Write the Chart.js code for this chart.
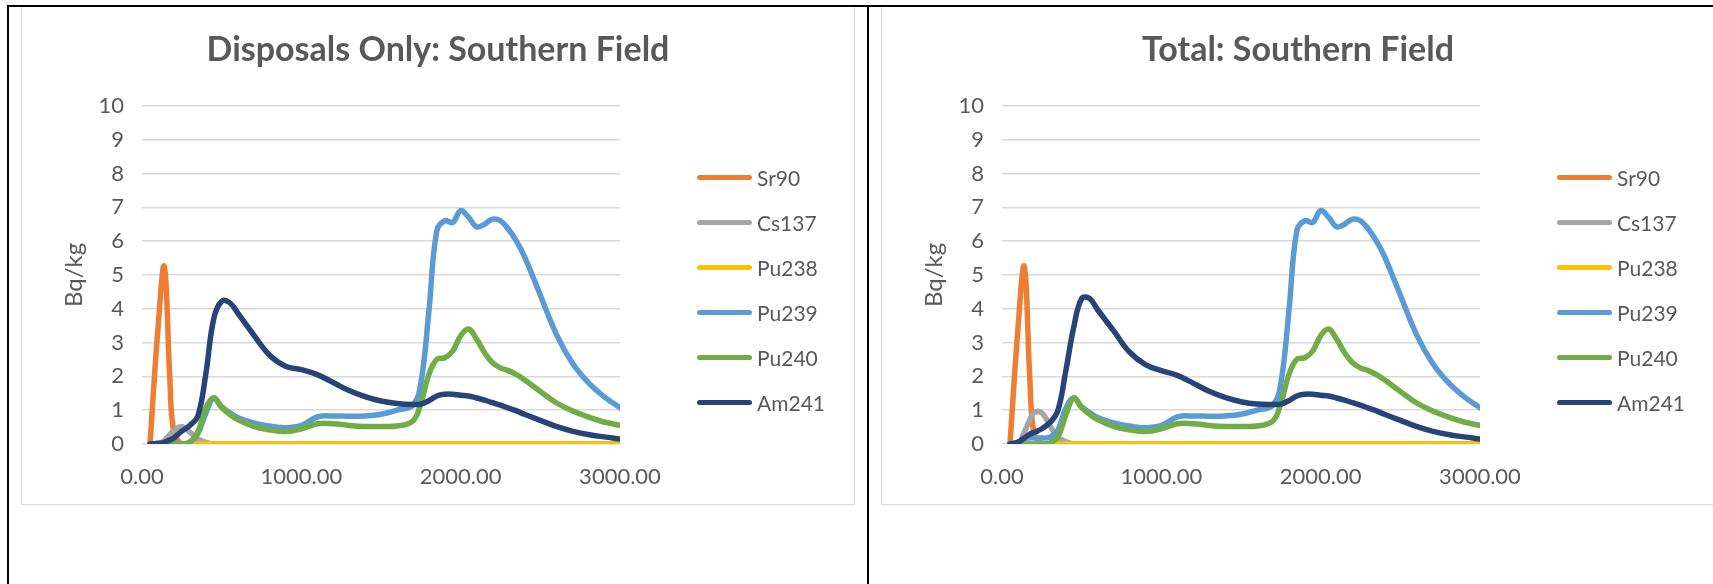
<!DOCTYPE html>
<html>
<head>
<meta charset="utf-8">
<title>Southern Field</title>
<script src="https://cdn.jsdelivr.net/npm/chart.js@4.4.1/dist/chart.umd.min.js"></script>
<style>
  body { margin: 0; background: #fff; font-family: Lato, sans-serif; }
  .rule { position: absolute; background: #000; z-index: 2; }
  .box { position: absolute; top: 5px; width: 832px; height: 498px; border: 1.5px solid #d9d9d9; }
  .box canvas { position: absolute; left: 0; top: 0; }
  .legend { position: absolute; left: 675px; top: 149px; list-style: none; margin: 0; padding: 0; }
  .legend li { display: flex; align-items: center; height: 45px; color: #595959; font-size: 21px; white-space: nowrap; }
  .legend span { display: inline-block; width: 55px; height: 5.5px; border-radius: 3px; margin-right: 5px; }
</style>
</head>
<body>
<div class="box" style="left:21px"><canvas id="disposals" width="832" height="498"></canvas><ul class="legend" id="legend-disposals"></ul></div>
<div class="box" style="left:881px"><canvas id="total" width="832" height="498"></canvas><ul class="legend" id="legend-total"></ul></div>
<div class="rule" style="left:7px;top:5px;width:1706px;height:1.5px"></div>
<div class="rule" style="left:7px;top:5px;width:2px;height:579px"></div>
<div class="rule" style="left:867px;top:5px;width:2px;height:579px"></div>
<script>
"use strict";

// distance values (x axis)
const X_VALUES = [
  50, 100, 140, 175, 200, 250, 300, 350, 400, 450,
  500, 550, 600, 700, 800, 900, 1000, 1100, 1200, 1300,
  1400, 1500, 1600, 1700, 1750, 1800, 1850, 1900, 1950, 2000,
  2050, 2100, 2150, 2200, 2250, 2300, 2350, 2400, 2500, 2600,
  2700, 2800, 2900, 3000
];

const SERIES_NAMES = ["Sr90", "Cs137", "Pu238", "Pu239", "Pu240", "Am241"];
const SERIES_COLORS = ["#ED7D31", "#A5A5A5", "#FFC000", "#5B9BD5", "#70AD47", "#264478"];

const CHART_TITLES = ["Disposals Only: Southern Field", "Total: Southern Field"];
const Y_TITLE = "Bq/kg";

// Bq/kg, same in both charts
const SR90 = [
  0, 3.4, 5.25, 1.9, 0.35, 0, 0, 0, 0, 0,
  0, 0, 0, 0, 0, 0, 0, 0, 0, 0,
  0, 0, 0, 0, 0, 0, 0, 0, 0, 0,
  0, 0, 0, 0, 0, 0, 0, 0, 0, 0,
  0, 0, 0, 0
];
const PU238 = [
  0, 0, 0, 0, 0, 0, 0, 0, 0, 0,
  0, 0, 0, 0, 0, 0, 0, 0, 0, 0,
  0, 0, 0, 0, 0, 0, 0, 0, 0, 0,
  0, 0, 0, 0, 0, 0, 0, 0, 0, 0,
  0, 0, 0, 0
];

// disposals only
const CS137_DISPOSALS = [
  0, 0, 0.1, 0.28, 0.4, 0.52, 0.35, 0.15, 0.05, 0,
  0, 0, 0, 0, 0, 0, 0, 0, 0, 0,
  0, 0, 0, 0, 0, 0, 0, 0, 0, 0,
  0, 0, 0, 0, 0, 0, 0, 0, 0, 0,
  0, 0, 0, 0
];
const PU239_DISPOSALS = [
  0, 0, 0, 0, 0, 0, 0.05, 0.3, 0.9, 1.36,
  1.1, 0.93, 0.78, 0.62, 0.53, 0.48, 0.55, 0.8, 0.83, 0.82,
  0.83, 0.88, 1.0, 1.15, 1.8, 3.9, 6.3, 6.6, 6.55, 6.9,
  6.7, 6.42, 6.5, 6.65, 6.6, 6.35, 6.0, 5.55, 4.4, 3.25,
  2.4, 1.82, 1.4, 1.07
];
const PU240_DISPOSALS = [
  0, 0, 0, 0, 0, 0, 0.05, 0.35, 1.05, 1.36,
  1.08, 0.88, 0.72, 0.52, 0.42, 0.37, 0.45, 0.6, 0.6, 0.55,
  0.52, 0.52, 0.53, 0.68, 1.2, 2.05, 2.5, 2.55, 2.75, 3.2,
  3.4, 3.1, 2.7, 2.4, 2.25, 2.17, 2.05, 1.9, 1.55, 1.22,
  0.98, 0.8, 0.65, 0.55
];
const AM241_DISPOSALS = [
  0, 0.02, 0.05, 0.12, 0.18, 0.38, 0.55, 0.82, 2.05, 3.7,
  4.22, 4.18, 3.88, 3.23, 2.63, 2.3, 2.2, 2.05, 1.82, 1.58,
  1.4, 1.27, 1.2, 1.17, 1.18, 1.28, 1.42, 1.47, 1.47, 1.44,
  1.42, 1.36, 1.3, 1.22, 1.15, 1.06, 0.98, 0.88, 0.7, 0.52,
  0.38, 0.28, 0.21, 0.15
];

// total
const CS137_TOTAL = [
  0, 0, 0.35, 0.72, 0.93, 0.92, 0.55, 0.2, 0.07, 0,
  0, 0, 0, 0, 0, 0, 0, 0, 0, 0,
  0, 0, 0, 0, 0, 0, 0, 0, 0, 0,
  0, 0, 0, 0, 0, 0, 0, 0, 0, 0,
  0, 0, 0, 0
];
const PU239_TOTAL = [
  0, 0.05, 0.15, 0.18, 0.18, 0.18, 0.2, 0.4, 1.05, 1.36,
  1.1, 0.93, 0.78, 0.62, 0.53, 0.48, 0.55, 0.8, 0.83, 0.82,
  0.83, 0.88, 1.0, 1.15, 1.8, 3.9, 6.3, 6.6, 6.55, 6.9,
  6.7, 6.42, 6.5, 6.65, 6.6, 6.35, 6.0, 5.55, 4.4, 3.25,
  2.4, 1.82, 1.4, 1.07
];
const PU240_TOTAL = [
  0, 0, 0, 0, 0, 0, 0.03, 0.2, 0.85, 1.36,
  1.08, 0.88, 0.72, 0.52, 0.42, 0.37, 0.45, 0.6, 0.6, 0.55,
  0.52, 0.52, 0.53, 0.68, 1.2, 2.05, 2.5, 2.55, 2.75, 3.2,
  3.4, 3.1, 2.7, 2.4, 2.25, 2.17, 2.05, 1.9, 1.55, 1.22,
  0.98, 0.8, 0.65, 0.55
];
const AM241_TOTAL = [
  0, 0.05, 0.18, 0.29, 0.34, 0.45, 0.63, 0.98, 2.15, 3.45,
  4.3, 4.3, 3.97, 3.35, 2.72, 2.35, 2.17, 2.03, 1.8, 1.56,
  1.38, 1.25, 1.18, 1.17, 1.18, 1.28, 1.42, 1.47, 1.47, 1.44,
  1.42, 1.36, 1.3, 1.22, 1.15, 1.06, 0.98, 0.88, 0.7, 0.52,
  0.38, 0.28, 0.21, 0.15
];

const TEXT_COLOR = "#595959";
const GRID_COLOR = "#d9d9d9";
const FONT = "Lato";

function makeChart(canvasId, title, values) {
  const datasets = values.map((ys, i) => ({
    label: SERIES_NAMES[i],
    data: X_VALUES.map((x, j) => ({ x: x, y: ys[j] })),
    borderColor: SERIES_COLORS[i],
    backgroundColor: SERIES_COLORS[i],
    borderWidth: 5.5,
    borderCapStyle: "round",
    borderJoinStyle: "round",
    pointRadius: 0,
    tension: 0.4,
    // later series on top, like Excel
    order: values.length - i
  }));

  return new Chart(document.getElementById(canvasId), {
    type: "line",
    data: { datasets: datasets },
    options: {
      responsive: false,
      animation: false,
      layout: { padding: 0 },
      plugins: {
        legend: { display: false },
        tooltip: { enabled: false },
        title: {
          display: true,
          text: title,
          color: TEXT_COLOR,
          font: { family: FONT, size: 34, weight: "bold" },
          padding: { top: 24, bottom: 35 }
        }
      },
      scales: {
        x: {
          type: "linear",
          min: 0,
          max: 3000,
          grid: { display: false, drawTicks: false },
          border: { display: false },
          ticks: {
            stepSize: 1000,
            padding: 20,
            maxRotation: 0,
            color: TEXT_COLOR,
            font: { family: FONT, size: 22 },
            callback: (v) => v.toFixed(2)
          },
          afterFit: (scale) => { scale.height = 60; }
        },
        y: {
          min: 0,
          max: 10,
          grid: { color: GRID_COLOR, lineWidth: 1.5, drawTicks: false },
          border: { display: false },
          ticks: {
            stepSize: 1,
            padding: 18,
            color: TEXT_COLOR,
            font: { family: FONT, size: 22 }
          },
          title: {
            display: true,
            text: Y_TITLE,
            color: TEXT_COLOR,
            font: { family: FONT, size: 24 },
            padding: { top: 38, bottom: 0 }
          },
          afterFit: (scale) => { scale.width = 120; }
        },
        // empty axis that keeps room for the legend on the right
        legendSpace: {
          position: "right",
          display: true,
          grid: { display: false, drawTicks: false },
          border: { display: false },
          ticks: { display: false },
          afterFit: (scale) => { scale.width = 234; }
        }
      }
    }
  });
}

function buildLegend(listId) {
  const ul = document.getElementById(listId);
  SERIES_NAMES.forEach((name, i) => {
    const li = document.createElement("li");
    const swatch = document.createElement("span");
    swatch.style.background = SERIES_COLORS[i];
    li.appendChild(swatch);
    li.appendChild(document.createTextNode(name));
    ul.appendChild(li);
  });
}

makeChart("disposals", CHART_TITLES[0],
  [SR90, CS137_DISPOSALS, PU238, PU239_DISPOSALS, PU240_DISPOSALS, AM241_DISPOSALS]);
makeChart("total", CHART_TITLES[1],
  [SR90, CS137_TOTAL, PU238, PU239_TOTAL, PU240_TOTAL, AM241_TOTAL]);
buildLegend("legend-disposals");
buildLegend("legend-total");
</script>
</body>
</html>
